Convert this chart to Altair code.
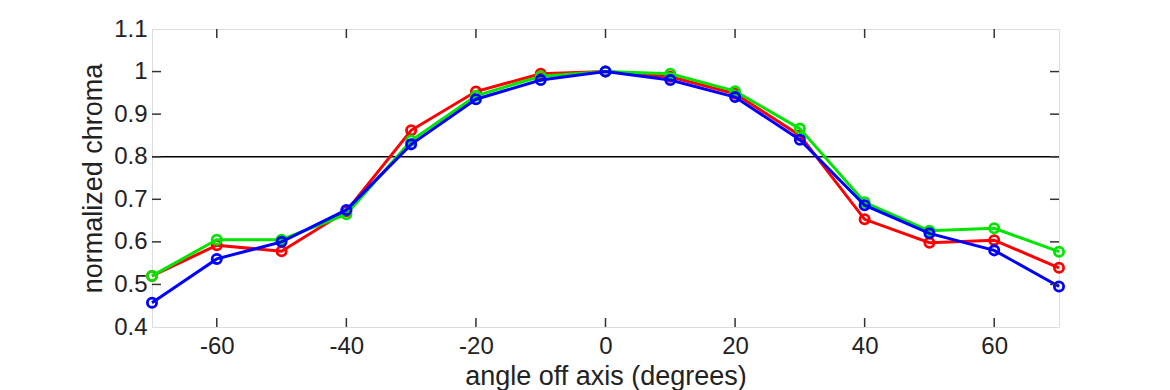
import altair as alt
import pandas as pd

angles = [-70, -60, -50, -40, -30, -20, -10, 0, 10, 20, 30, 40, 50, 60, 70]
red = [0.520, 0.592, 0.578, 0.672, 0.862, 0.953, 0.995, 1.0, 0.988, 0.948, 0.850, 0.653, 0.598, 0.604, 0.539]
green = [0.520, 0.605, 0.605, 0.665, 0.838, 0.943, 0.989, 1.0, 0.995, 0.954, 0.866, 0.693, 0.626, 0.632, 0.577]
blue = [0.457, 0.560, 0.600, 0.675, 0.829, 0.935, 0.980, 1.0, 0.980, 0.940, 0.840, 0.686, 0.620, 0.580, 0.495]

x_ticks = [-60, -40, -20, 0, 20, 40, 60]
y_ticks = [0.5, 0.6, 0.7, 0.8, 0.9, 1.0]
threshold = [0.8]

series = [("red", red, "#ff0000"), ("green", green, "#00e600"), ("blue", blue, "#0000ff")]

W, H = 907, 298
FONT = "Liberation Sans"

xscale = alt.Scale(domain=[-70, 70], nice=False, zero=False)
yscale = alt.Scale(domain=[0.4, 1.1], nice=False, zero=False)

xaxis = alt.Axis(values=x_ticks, ticks=False, domain=False, grid=False,
                 labelFontSize=24, labelFont=FONT, labelColor="#222",
                 labelPadding=7, title="angle off axis (degrees)",
                 titleFontSize=27, titleFont=FONT, titleFontWeight="normal",
                 titleColor="#222", titlePadding=5, labelFlush=False,
                 labelExpr="datum.value < 0 ? '-' + abs(datum.value) : '' + datum.value")
yaxis = alt.Axis(values=[0.4, 0.5, 0.6, 0.7, 0.8, 0.9, 1.0, 1.1], ticks=False,
                 domain=False, grid=False, labelFontSize=24, labelFont=FONT,
                 labelColor="#222", labelPadding=5, title="normalized chroma",
                 titleFontSize=27, titleFont=FONT, titleFontWeight="normal",
                 titleColor="#222", titlePadding=6, labelFlush=False,
                 labelExpr="datum.value == 1 ? '1' : format(datum.value, '.1f')")

layers = []
ref = alt.Chart(pd.DataFrame({"y": threshold})).mark_rule(color="black", strokeWidth=1.5).encode(
    y=alt.Y("y:Q", scale=yscale, axis=yaxis))
layers.append(ref)

for name, vals, col in series:
    df = pd.DataFrame({"angle": angles, "v": vals})
    base = alt.Chart(df).encode(
        x=alt.X("angle:Q", scale=xscale, axis=xaxis),
        y=alt.Y("v:Q", scale=yscale, axis=yaxis))
    layers.append(base.mark_line(color=col, strokeWidth=3))
    layers.append(base.mark_point(shape="circle", filled=False, color=col, size=85, strokeWidth=2.8, opacity=1))

xt = pd.DataFrame({"t": x_ticks})
yt = pd.DataFrame({"t": y_ticks})
tick_style = dict(color="#333", strokeWidth=1.5)
layers.append(alt.Chart(xt).mark_rule(**tick_style).encode(
    x=alt.X("t:Q", scale=xscale), y=alt.value(0), y2=alt.value(9)))
layers.append(alt.Chart(xt).mark_rule(**tick_style).encode(
    x=alt.X("t:Q", scale=xscale), y=alt.value(H - 9), y2=alt.value(H)))
layers.append(alt.Chart(yt).mark_rule(**tick_style).encode(
    y=alt.Y("t:Q", scale=yscale), x=alt.value(0), x2=alt.value(9)))
layers.append(alt.Chart(yt).mark_rule(**tick_style).encode(
    y=alt.Y("t:Q", scale=yscale), x=alt.value(W - 9), x2=alt.value(W)))

chart = alt.layer(*layers).properties(
    width=W, height=H,
    autosize=alt.AutoSizeParams(type="none"),
    padding={"left": 144, "top": 21, "right": 103, "bottom": 63},
).configure_view(stroke="#333", strokeWidth=1.5).configure(background="white")

chart.save("out.html", embed_options={"renderer": "svg", "actions": False})
